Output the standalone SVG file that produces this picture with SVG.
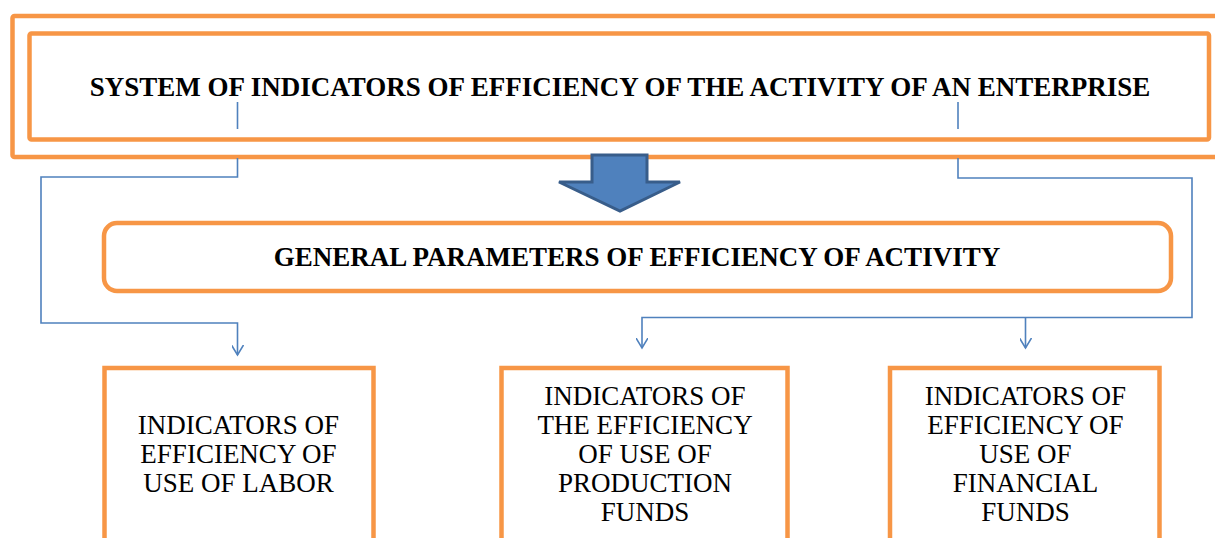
<svg xmlns="http://www.w3.org/2000/svg" width="1215" height="538" viewBox="0 0 1215 538">
<defs>
<style>
.box{fill:#fff;stroke:#F79646;stroke-width:4.5}
.ln{fill:none;stroke:#4F81BD;stroke-width:1.6}
.t{font-family:"Liberation Serif","Times New Roman",serif;font-size:27px;fill:#000;text-anchor:middle}
.b{font-weight:bold}
</style>
<marker id="v" markerWidth="14" markerHeight="12" refX="10" refY="6" orient="auto" markerUnits="userSpaceOnUse">
<path d="M0,0 L10,6 L0,12" fill="none" stroke="#4F81BD" stroke-width="1.6"/>
</marker>
</defs>
<rect width="1215" height="538" fill="#fff"/>
<g id="outer"><rect class="box" x="12.5" y="16" width="1230" height="141" rx="2"/></g>
<g id="title">
<rect class="box" x="29.5" y="33.5" width="1179.5" height="106" rx="2"/>
<text class="t b" x="620" y="96">SYSTEM OF INDICATORS OF EFFICIENCY OF THE ACTIVITY OF AN ENTERPRISE</text>
</g>
<g id="bigarrow">
<path d="M592,155 L647,155 L647,182 L680,182 L620,211 L559,182 L592,182 Z" fill="#4F81BD" stroke="#385D8A" stroke-width="3" stroke-linejoin="miter"/>
</g>
<g id="general">
<rect class="box" x="104" y="223" width="1067" height="68" rx="13"/>
<text class="t b" x="637" y="266">GENERAL PARAMETERS OF EFFICIENCY OF ACTIVITY</text>
</g>
<g id="connectors">
<path class="ln" d="M237.5,102 V129"/>
<path class="ln" d="M958,102 V129"/>
<path class="ln" d="M237.5,158 V177 H41 V323 H237.5 V355" marker-end="url(#v)"/>
<path class="ln" d="M958,158 V178 H1192 V317.5 H642 V348" marker-end="url(#v)"/>
<path class="ln" d="M1025.5,317.5 V348" marker-end="url(#v)"/>
</g>
<g id="labor">
<rect class="box" x="104.5" y="368" width="269" height="200"/>
<text class="t" x="238.5"><tspan x="238.5" y="434">INDICATORS OF</tspan><tspan x="238.5" y="463">EFFICIENCY OF</tspan><tspan x="238.5" y="492">USE OF LABOR</tspan></text>
</g>
<g id="production">
<rect class="box" x="501.5" y="368" width="286" height="200"/>
<text class="t" x="645"><tspan x="645" y="405">INDICATORS OF</tspan><tspan x="645" y="434">THE EFFICIENCY</tspan><tspan x="645" y="463">OF USE OF</tspan><tspan x="645" y="492">PRODUCTION</tspan><tspan x="645" y="521">FUNDS</tspan></text>
</g>
<g id="financial">
<rect class="box" x="890" y="368" width="269.5" height="200"/>
<text class="t" x="1025.5"><tspan x="1025.5" y="405">INDICATORS OF</tspan><tspan x="1025.5" y="434">EFFICIENCY OF</tspan><tspan x="1025.5" y="463">USE OF</tspan><tspan x="1025.5" y="492">FINANCIAL</tspan><tspan x="1025.5" y="521">FUNDS</tspan></text>
</g>
</svg>
